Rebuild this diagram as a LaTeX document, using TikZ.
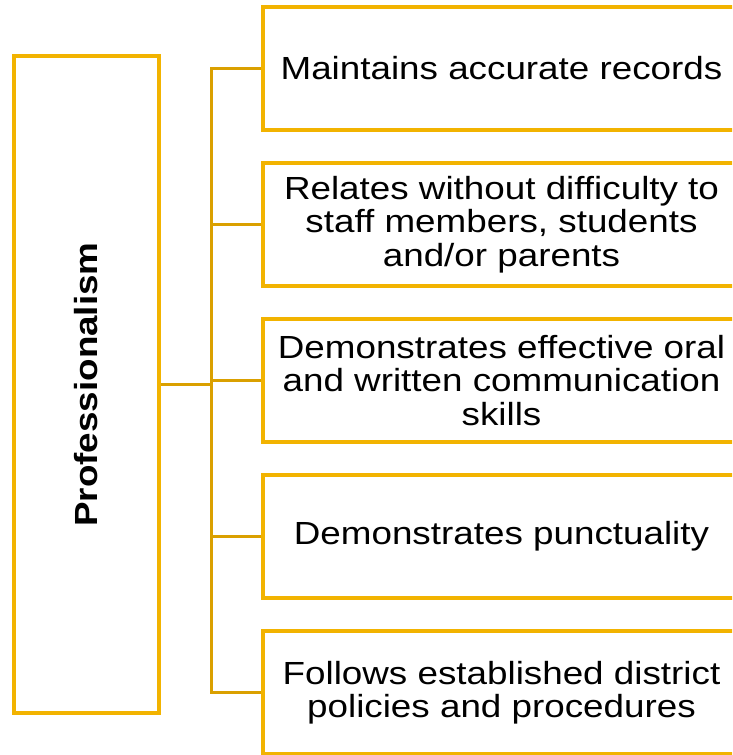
\documentclass[tikz,border=0pt]{standalone}
\usepackage{fontspec}
\setmainfont{Liberation Sans}
\newfontfamily\widefont[FakeStretch=1.15]{Liberation Sans}
\definecolor{boxgold}{RGB}{242,179,0}
\definecolor{linegold}{RGB}{218,160,0}
\begin{document}
\begin{tikzpicture}[x=1pt,y=1pt,
  goldbox/.style={draw=boxgold, line width=4pt, inner sep=0pt, fill=white},
  itembox/.style={goldbox, minimum width=477pt, minimum height=123pt},
  itemtext/.style={align=center, inner sep=0pt, font=\widefont\fontsize{32}{33.5}\selectfont},
  conn/.style={draw=linegold, line width=2.5pt}]
\useasboundingbox (0,0) rectangle (732,-755);
\clip (0,0) rectangle (732,-755);
\fill[white] (0,0) rectangle (732,-755);
\coordinate (T) at (211.5,0);
\node[goldbox, minimum width=145pt, minimum height=657pt] (L) at (86.5,-384.5) {};
\node[rotate=90, inner sep=0pt, font=\widefont\bfseries\fontsize{32}{33.5}\selectfont] (Lt) at (86.5,-384.5) {Professionalism};
\node[itembox] (b1) at (501.5,-68.5) {};
\node[itembox] (b2) at (501.5,-224.5) {};
\node[itembox] (b3) at (501.5,-380.5) {};
\node[itembox] (b4) at (501.5,-536.5) {};
\node[itembox] (b5) at (501.5,-692.5) {};
\node[itemtext] (t1) at (b1.center) {Maintains accurate records};
\node[itemtext] (t2) at (b2.center) {Relates without difficulty to\\staff members, students\\and/or parents};
\node[itemtext] (t3) at (b3.center) {Demonstrates effective oral\\and written communication\\skills};
\node[itemtext] (t4) at (b4.center) {Demonstrates punctuality};
\node[itemtext] (t5) at (b5.center) {Follows established district\\policies and procedures};
\draw[conn] (b1.west) -- (b1.west -| T) -- (b5.west -| T) -- (b5.west);
\draw[conn] (b2.west) -- (b2.west -| T);
\draw[conn] (b3.west) -- (b3.west -| T);
\draw[conn] (b4.west) -- (b4.west -| T);
\draw[conn] (L.east) -- (L.east -| T);
\end{tikzpicture}
\end{document}
